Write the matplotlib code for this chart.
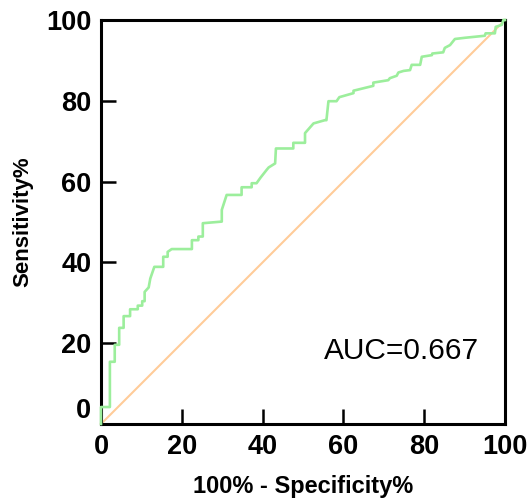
import matplotlib
matplotlib.use("Agg")
import matplotlib.pyplot as plt

# ROC curve vertices (100% - Specificity%, Sensitivity%)
fpr = [0, 0, 2.2, 2.2, 3.4, 3.4, 4.5, 4.5, 5.6, 5.6, 7.2, 7.2, 9.1, 9.1, 10.2, 10.2,
       10.8, 10.8, 11.8, 12.2, 13.2, 15.4, 15.4, 16.5, 16.5, 17.5, 22.5, 22.5, 24.1, 24.1,
       25.2, 25.2, 29.9, 29.9, 31.1, 34.8, 34.8, 37.3, 37.3, 38.5, 39.5, 41.0, 41.5, 43.1,
       43.3, 47.6, 47.6, 50.5, 50.5, 52.6, 55.4, 55.8, 56.3, 58.3, 59.0, 62.5, 62.5, 67.4,
       67.4, 71.1, 71.5, 73.2, 73.6, 74.9, 76.5, 76.9, 79.0, 79.4, 81.9, 82.0, 84.7, 85.1,
       86.4, 87.6, 90.1, 95.0, 95.2, 97.5, 97.7, 99.2, 99.6, 100]
tpr = [0, 4.2, 4.2, 15.4, 15.4, 19.6, 19.6, 23.8, 23.8, 26.7, 26.7, 28.4, 28.4, 29.3, 29.3, 30.4,
       30.4, 32.7, 33.8, 36.0, 38.9, 38.9, 41.4, 41.4, 42.6, 43.3, 43.3, 45.5, 45.5, 46.4,
       46.4, 49.7, 50.1, 53.0, 56.7, 56.7, 58.6, 58.6, 59.6, 59.6, 61.0, 62.9, 63.5, 64.5,
       68.2, 68.2, 69.6, 69.6, 72.0, 74.4, 75.2, 75.2, 79.9, 79.9, 80.9, 81.9, 82.5, 83.7,
       84.5, 85.1, 85.6, 86.2, 87.0, 87.4, 87.6, 88.9, 88.9, 90.9, 91.3, 91.7, 92.0, 93.1,
       93.8, 95.3, 95.6, 96.1, 96.7, 96.7, 98.3, 98.8, 100, 100]
ref_x = [0, 100]
ref_y = [0, 100]
ticks = [0, 20, 40, 60, 80, 100]
tick_labels = ["0", "20", "40", "60", "80", "100"]
auc_text = "AUC=0.667"

plt.rcParams['font.family'] = ['Liberation Sans', 'DejaVu Sans']

fig = plt.figure(figsize=(5.32, 5.01), dpi=100)
ax = fig.add_axes([101/532, 1-424/501, 404/532, 404/501])

ax.plot(ref_x, ref_y, color='#FFCC99', lw=1.5, zorder=2, clip_on=False)
ax.plot(fpr, tpr, color='#9CEE9C', lw=1.9, zorder=3, clip_on=False)

ax.set_xlim(0, 100)
ax.set_ylim(0, 100)
ax.set_xticks(ticks)
ax.set_yticks(ticks)
ax.set_xticklabels(tick_labels, fontsize=19.5, fontweight='bold')
ax.set_yticklabels(tick_labels, fontsize=19.5, fontweight='bold')
ax.tick_params(direction='in', length=11, width=1.8, pad=7)
ax.yaxis.get_ticklabels()[0].set_verticalalignment('bottom')

for s in ax.spines.values():
    s.set_linewidth(2.2)
    s.set_color('black')

ax.set_xlabel("100% - Specificity%", fontsize=17, fontweight='bold', labelpad=11)
ax.set_ylabel("Sensitivity%", fontsize=16, fontweight='bold', labelpad=9)

ax.text(74.3, 18.1, auc_text, fontsize=21.5, ha='center', va='center')

fig.savefig("out.png", dpi=100)
